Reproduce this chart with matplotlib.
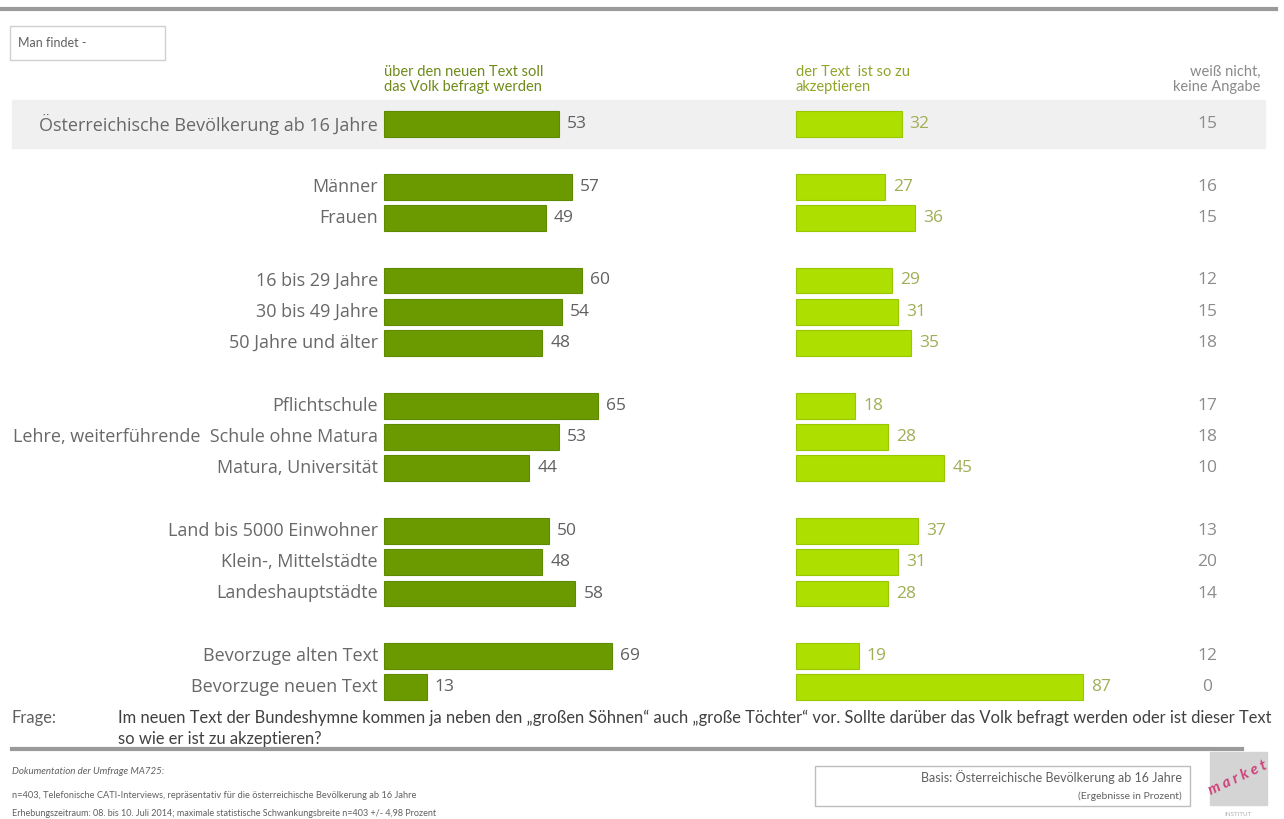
import numpy as np
import matplotlib
matplotlib.use('Agg')
import matplotlib.pyplot as plt
from matplotlib.patches import Rectangle

plt.rcParams['font.family'] = ['Lato', 'DejaVu Sans']

W, H = 1284, 819

categories = ['Österreichische Bevölkerung ab 16 Jahre',
              'Männer', 'Frauen',
              '16 bis 29 Jahre', '30 bis 49 Jahre', '50 Jahre und älter',
              'Pflichtschule', 'Lehre, weiterführende  Schule ohne Matura', 'Matura, Universität',
              'Land bis 5000 Einwohner', 'Klein-, Mittelstädte', 'Landeshauptstädte',
              'Bevorzuge alten Text', 'Bevorzuge neuen Text']
# row slots (empty slot between groups)
rows = [0, 2, 3, 5, 6, 7, 9, 10, 11, 13, 14, 15, 17, 18]
befragen = [53, 57, 49, 60, 54, 48, 65, 53, 44, 50, 48, 58, 69, 13]
akzeptieren = [32, 27, 36, 29, 31, 35, 18, 28, 45, 37, 31, 28, 19, 87]
weiss_nicht = [15, 16, 15, 12, 15, 18, 17, 18, 10, 13, 20, 14, 12, 0]

col_heads = ['über den neuen Text soll\ndas Volk befragt werden',
             'der Text  ist so zu\nakzeptieren',
             'weiß nicht,\nkeine Angabe']

dark_green = '#6b9a00'
light_green = '#addf00'
grey_txt = '#606060'
label_font = ['Open Sans', 'DejaVu Sans']

# scale: px per percent and row height in px
ppu = 3.3
row_px = 31.3
x0_px = 384
y0_px = 124
right_off = (796 - x0_px) / ppu
third_x = (1207 - x0_px) / ppu

fig = plt.figure(figsize=(W / 100, H / 100), dpi=100)
ax = fig.add_axes([0, 0, 1, 1])
ax.set_xlim(-x0_px / ppu, (W - x0_px) / ppu)
ax.set_ylim((H - y0_px) / row_px, -y0_px / row_px)
ax.axis('off')


def fx(px):
    return px / W


def fy(py):
    return 1 - py / H


# grey band behind total row
ax.axhspan(-0.77, 0.77, xmin=fx(12), xmax=fx(1265), color='#f0f0f0', zorder=0)

ax.barh(rows, befragen, height=0.83, color=dark_green, edgecolor='#5e8a00', lw=0.8, zorder=2)
ax.barh(rows, akzeptieren, left=right_off, height=0.83, color=light_green,
        edgecolor='#98c800', lw=0.8, zorder=2)

for r, c, a, b, w in zip(rows, categories, befragen, akzeptieren, weiss_nicht):
    ax.text(-6 / ppu, r, c, ha='right', va='center', fontsize=13, color='#686868',
            family=label_font)
    ax.text(a + 8 / ppu, r, str(a), ha='left', va='center', fontsize=12.5, color='#606060',
            family=label_font)
    ax.text(right_off + b + 8 / ppu, r, str(b), ha='left', va='center', fontsize=12.5,
            color='#a2ad55', family=label_font)
    ax.text(third_x, r, str(w), ha='center', va='center', fontsize=12.5, color='#8c8c8c',
            family=label_font)

# column headers
fig.text(fx(384), fy(65), col_heads[0], ha='left', va='top', fontsize=10.5,
         color='#6f8a1a', linespacing=1.1)
fig.text(fx(796), fy(65), col_heads[1], ha='left', va='top', fontsize=10.5,
         color='#8fa528', linespacing=1.1)
fig.text(fx(1260), fy(65), col_heads[2], ha='right', va='top', fontsize=10.5,
         color='#8a8a8a', linespacing=1.1, multialignment='right')

# top rule and "Man findet" box
fig.add_artist(plt.Line2D([fx(0), fx(1276)], [fy(9), fy(9)], color='#9a9a9a', lw=3))
fig.add_artist(Rectangle((fx(10), fy(60)), fx(155), 34 / H, fill=False,
                         ec='#d0d0d0', lw=1))
fig.text(fx(18), fy(43), 'Man findet -', ha='left', va='center', fontsize=9, color=grey_txt)

# question
fig.text(fx(12), fy(718), 'Frage:', ha='left', va='center', fontsize=11.9, color=grey_txt)
fig.text(fx(118), fy(718),
         'Im neuen Text der Bundeshymne kommen ja neben den „großen Söhnen“ auch „große Töchter“ vor. '
         'Sollte darüber das Volk befragt werden oder ist dieser Text',
         ha='left', va='center', fontsize=11.9, color='#404040')
fig.text(fx(118), fy(739), 'so wie er ist zu akzeptieren?', ha='left', va='center',
         fontsize=11.9, color='#404040')

# bottom rule
fig.add_artist(plt.Line2D([fx(12), fx(1242)], [fy(749), fy(749)], color='#9a9a9a', lw=3))

# footer
fig.text(fx(12), fy(772), 'Dokumentation der Umfrage MA725:', ha='left', va='center',
         fontsize=7, style='italic', color=grey_txt)
fig.text(fx(12), fy(796),
         'n=403, Telefonische CATI-Interviews, repräsentativ für die österreichische Bevölkerung ab 16 Jahre',
         ha='left', va='center', fontsize=6.7, color=grey_txt)
fig.text(fx(12), fy(813),
         'Erhebungszeitraum: 08. bis 10. Juli 2014; maximale statistische Schwankungsbreite n=403 +/- 4,98 Prozent',
         ha='left', va='center', fontsize=6.5, color=grey_txt)

fig.add_artist(Rectangle((fx(815), fy(806)), fx(375), 40 / H, fill=False,
                         ec='#bdbdbd', lw=1))
fig.text(fx(1182), fy(777), 'Basis: Österreichische Bevölkerung ab 16 Jahre', ha='right',
         va='center', fontsize=9, color=grey_txt)
fig.text(fx(1182), fy(796), '(Ergebnisse in Prozent)', ha='right', va='center',
         fontsize=7.5, color=grey_txt)

# logo
fig.add_artist(Rectangle((fx(1210), fy(805)), fx(57), 53 / H, color='#d4d4d4'))
fig.text(fx(1238), fy(778), 'm a r k e t', ha='center', va='center', fontsize=11,
         style='italic', weight='bold', color='#d0407a', rotation=25)
fig.text(fx(1238), fy(814), 'INSTITUT', ha='center', va='center', fontsize=4.5,
         color='#b0b0b0')

fig.savefig('out.png', dpi=100)
